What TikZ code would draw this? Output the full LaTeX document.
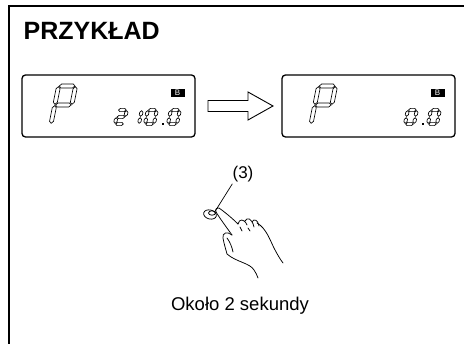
\documentclass[tikz,border=0pt]{standalone}
\usepackage{fontspec}
\setmainfont{Liberation Sans}
\usetikzlibrary{positioning,calc,shapes.geometric}

% pointed LCD bars: \lcdhbar{x1}{x2}{y}, \lcdvbar{x}{y1}{y2}
\newcommand\lcdhbar[3]{\draw[lcdseg] ({#1},{#3}) -- ({#1+\lcdt},{#3+\lcdt}) -- ({#2-\lcdt},{#3+\lcdt})
  -- ({#2},{#3}) -- ({#2-\lcdt},{#3-\lcdt}) -- ({#1+\lcdt},{#3-\lcdt}) -- cycle;}
\newcommand\lcdvbar[3]{\draw[lcdseg] ({#1},{#2}) -- ({#1+\lcdt},{#2+\lcdt}) -- ({#1+\lcdt},{#3-\lcdt})
  -- ({#1},{#3}) -- ({#1-\lcdt},{#3-\lcdt}) -- ({#1-\lcdt},{#2+\lcdt}) -- cycle;}
\newcommand\lcdsega{\lcdhbar{\lcdg}{\lcdw-\lcdg}{\lcdh}}
\newcommand\lcdsegb{\lcdvbar{\lcdw}{.5*\lcdh+\lcdg}{\lcdh-\lcdg}}
\newcommand\lcdsegc{\lcdvbar{\lcdw}{\lcdg}{.5*\lcdh-\lcdg}}
\newcommand\lcdsegd{\lcdhbar{\lcdg}{\lcdw-\lcdg}{0}}
\newcommand\lcdsege{\lcdvbar{0}{\lcdg}{.5*\lcdh-\lcdg}}
\newcommand\lcdsegf{\lcdvbar{0}{.5*\lcdh+\lcdg}{\lcdh-\lcdg}}
\newcommand\lcdsegg{\lcdhbar{\lcdg}{\lcdw-\lcdg}{.5*\lcdh}}
\newcommand\lcdsegment[1]{\csname lcdseg#1\endcsname}

% one seven-segment character: {origin}{width}{height}{bar half width}{lit segments}
\newcommand\lcdchar[5]{%
  \begin{scope}[shift={#1},xslant=.2]
    \def\lcdw{#2}\def\lcdh{#3}\def\lcdt{#4}\def\lcdg{.7}
    \foreach \s in {#5}{\expandafter\lcdsegment\expandafter{\s}}
  \end{scope}}

\begin{document}
\begin{tikzpicture}[
    x=1pt,y=1pt,
    frameline/.style={line width=2.3pt,line join=miter},
    lcdpanel/.style={draw,rounded corners=3.5pt,line width=1.3pt,minimum width=173pt,
                     minimum height=62pt,inner sep=0pt,outer sep=0pt},
    lcdseg/.style={draw=black,fill=white,line width=.65pt,line join=miter},
    modemark/.style={fill=black,text=white,minimum width=14pt,minimum height=8.5pt,inner sep=0pt,
                     font=\fontsize{8}{8}\selectfont},
    blockarrow/.style={draw,line width=.9pt,line join=miter},
    handline/.style={draw,line width=.75pt,line cap=round,line join=round}
  ]
  \useasboundingbox (0,0) rectangle (464,-344);
  \draw[frameline] (8.7,-344) -- (8.7,-6.3) -- (464,-6.3);

  \node[anchor=base west,inner sep=0pt,font=\fontsize{25}{30}\selectfont\bfseries] (title) at (23.5,-40) {PRZYKŁAD};

  % the two display panels
  \node[lcdpanel] (lcdA) at (108.5,-106) {};
  \node[lcdpanel,right=87pt of lcdA] (lcdB) {};

  \begin{scope}[shift={(lcdA.south west)}]
    \lcdchar{(29,13)}{17}{38}{2}{a,b,g,e,f}
    \lcdchar{(93,13)}{9}{14}{1.6}{a,b,g,e,d}
    \lcdchar{(108,13)}{9}{14}{1.6}{b,c}
    \lcdchar{(123,13)}{9}{14}{1.6}{a,b,c,d,e,f}
    \fill (139.5,11.6) rectangle +(2.4,2.4);
    \lcdchar{(146,13)}{9}{14}{1.6}{a,b,c,d,e,f}
    \node[modemark] (markA) at (155.5,44) {B};
  \end{scope}

  \begin{scope}[shift={(lcdB.south west)}]
    \lcdchar{(29,13)}{17}{38}{2}{a,b,g,e,f}
    \lcdchar{(123,13)}{9}{14}{1.6}{a,b,c,d,e,f}
    \fill (139.5,11.6) rectangle +(2.4,2.4);
    \lcdchar{(146,13)}{9}{14}{1.6}{a,b,c,d,e,f}
    \node[modemark] (markB) at (155.5,44) {B};
  \end{scope}

  % hollow arrow between the panels
  \coordinate (tail) at ($(lcdA.east)+(13,0)$);
  \coordinate (tip) at ($(lcdB.west)+(-9,0)$);
  \draw[blockarrow] ($(tail)+(0,5.5)$) -- ($(tip)+(-25,5.5)$) -- ($(tip)+(-25,14)$) -- (tip)
    -- ($(tip)+(-25,-14)$) -- ($(tip)+(-25,-5.5)$) -- ($(tail)+(0,-5.5)$) -- cycle;

  % button, callout and pressing hand
  \node[handline,ellipse,minimum width=13pt,minimum height=9pt,inner sep=0pt,rotate=-15] (button) at (210,-214.5) {};
  \draw[handline] (212,-213) ellipse [x radius=3.5,y radius=2.2];
  \node[anchor=base,inner sep=0pt,font=\fontsize{17}{20}\selectfont] (callout) at (243,-179) {(3)};
  \draw[line width=.7pt] (button.45) -- ($(callout.south west)+(0,-1)$);

  \draw[handline] (216,-212) .. controls (215,-209) and (217,-207) .. (219,-208)
    .. controls (226,-213) and (233,-219) .. (238,-224);
  \draw[handline] (216,-212) .. controls (221,-220) and (227,-228) .. (232,-235);
  \draw[handline] (238,-224) .. controls (239,-219) and (244,-218) .. (247,-225);
  \draw[handline] (245,-221) .. controls (247,-217) and (252,-218) .. (254,-227);
  \draw[handline] (252,-222) .. controls (254,-218) and (258,-220) .. (259,-226);
  \draw[handline] (240,-227) -- (242,-231);
  \draw[handline] (248,-228) -- (250,-231);
  \draw[handline] (257,-223) .. controls (266,-228) and (270,-240) .. (274,-248)
    .. controls (277,-254) and (280,-259) .. (283,-263);
  \draw[handline] (232,-235) .. controls (227,-231) and (222,-233) .. (223,-238)
    .. controls (224,-244) and (226,-250) .. (227,-254)
    .. controls (236,-262) and (250,-263) .. (254,-270)
    .. controls (256,-273) and (257,-275) .. (258,-278);
  \draw[handline] (227,-238) .. controls (230,-242) and (232,-247) .. (233,-252);

  \node[anchor=base,inner sep=0pt,font=\fontsize{18.5}{22}\selectfont] (caption) at (240,-311) {Około 2 sekundy};
\end{tikzpicture}
\end{document}
